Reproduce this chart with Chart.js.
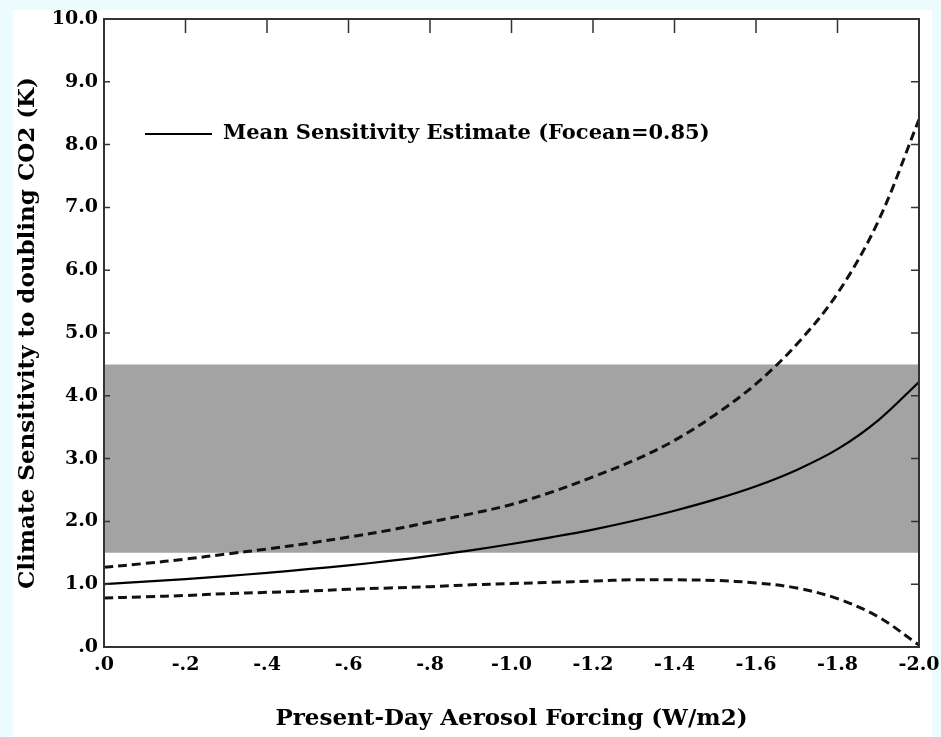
<!DOCTYPE html>
<html>
<head>
<meta charset="utf-8">
<script src="https://cdn.jsdelivr.net/npm/chart.js@4.4.0/dist/chart.umd.min.js"></script>
<style>
  html, body { margin: 0; padding: 0; background: #ecfcfd; }
  canvas { display: block; }
</style>
</head>
<body>
<canvas id="c" width="941" height="737"></canvas>
<script>
// ---- data ----
const forcing = [0, -0.1, -0.2, -0.3, -0.4, -0.5, -0.6, -0.7, -0.8, -0.9, -1.0,
                 -1.1, -1.2, -1.3, -1.4, -1.5, -1.6, -1.7, -1.8, -1.9, -2.0];
const meanSensitivity = [1.00, 1.04, 1.08, 1.13, 1.18, 1.24, 1.30, 1.37, 1.45, 1.54, 1.64,
                         1.75, 1.87, 2.01, 2.17, 2.35, 2.56, 2.82, 3.15, 3.61, 4.22];
const upperSensitivity = [1.27, 1.33, 1.40, 1.48, 1.56, 1.65, 1.75, 1.86, 1.99, 2.12, 2.27,
                          2.47, 2.71, 2.97, 3.29, 3.70, 4.19, 4.82, 5.63, 6.78, 8.40];
const lowerSensitivity = [0.78, 0.80, 0.82, 0.85, 0.87, 0.89, 0.92, 0.94, 0.96, 0.99, 1.01,
                          1.03, 1.05, 1.07, 1.07, 1.06, 1.02, 0.94, 0.77, 0.48, 0.03];
const ipccRange = [1.5, 4.5];
const xRange = [0, -2.0];
const xTickValues = [0, -0.2, -0.4, -0.6, -0.8, -1.0, -1.2, -1.4, -1.6, -1.8, -2.0];
const xTickLabels = ['.0', '-.2', '-.4', '-.6', '-.8', '-1.0', '-1.2', '-1.4', '-1.6', '-1.8', '-2.0'];
const yTickValues = [0, 1, 2, 3, 4, 5, 6, 7, 8, 9, 10];
const yTickLabels = ['.0', '1.0', '2.0', '3.0', '4.0', '5.0', '6.0', '7.0', '8.0', '9.0', '10.0'];
const legendLabel = 'Mean Sensitivity Estimate (Focean=0.85)';
const xTitle = 'Present-Day Aerosol Forcing (W/m2)';
const yTitle = 'Climate Sensitivity to doubling CO2 (K)';

// ---- build ----
const FONT = "'DejaVu Serif', 'Liberation Serif', serif";
const pts = (ys) => forcing.map((x, i) => ({ x: x, y: ys[i] }));
const labelFor = (vals, labs, v) => {
  const i = vals.findIndex(t => Math.abs(t - v) < 1e-6);
  return i >= 0 ? labs[i] : '';
};

const backgroundPlugin = {
  id: 'bg',
  beforeDraw(chart) {
    const ctx = chart.ctx;
    ctx.save();
    ctx.fillStyle = '#ecfcfd';
    ctx.fillRect(0, 0, chart.width, chart.height);
    ctx.fillStyle = '#ffffff';
    ctx.fillRect(13, 10, 919, chart.height - 10);
    ctx.restore();
  }
};

const framePlugin = {
  id: 'frame',
  afterDatasetsDraw(chart) {
    const { ctx, chartArea: a, scales } = chart;
    ctx.save();
    ctx.strokeStyle = '#333';
    ctx.lineWidth = 2;
    ctx.strokeRect(a.left, a.top, a.right - a.left, a.bottom - a.top);
    ctx.lineWidth = 1.5;
    ctx.beginPath();
    xTickValues.forEach(v => {
      const px = scales.x.getPixelForValue(v);
      if (Math.abs(px - a.left) < 2 || Math.abs(px - a.right) < 2) return;
      ctx.moveTo(px, a.top);
      ctx.lineTo(px, a.top + 14);
    });
    yTickValues.forEach(v => {
      const py = scales.y.getPixelForValue(v);
      if (Math.abs(py - a.top) < 2 || Math.abs(py - a.bottom) < 2) return;
      ctx.moveTo(a.left, py);
      ctx.lineTo(a.left + 6, py);
      ctx.moveTo(a.right, py);
      ctx.lineTo(a.right - 8, py);
    });
    ctx.stroke();
    ctx.restore();
  }
};

const legendPlugin = {
  id: 'insideLegend',
  afterDraw(chart) {
    const ctx = chart.ctx;
    const ds = chart.data.datasets[0];
    const x0 = 145, y0 = 134;
    ctx.save();
    ctx.strokeStyle = ds.borderColor;
    ctx.lineWidth = 2;
    ctx.beginPath();
    ctx.moveTo(x0, y0);
    ctx.lineTo(x0 + 67, y0);
    ctx.stroke();
    ctx.fillStyle = '#000';
    ctx.font = "bold 21px " + FONT;
    ctx.textBaseline = 'middle';
    ctx.textAlign = 'left';
    ctx.fillText(ds.label, x0 + 78, y0);
    ctx.restore();
  }
};

new Chart(document.getElementById('c'), {
  type: 'line',
  data: {
    datasets: [
      {
        label: legendLabel,
        data: pts(meanSensitivity),
        borderColor: '#000',
        borderWidth: 2.2,
        pointRadius: 0,
        tension: 0.35,
        fill: false
      },
      {
        label: 'Upper bound',
        data: pts(upperSensitivity),
        borderColor: '#111',
        borderWidth: 3,
        borderDash: [9, 5],
        pointRadius: 0,
        tension: 0.35,
        fill: false
      },
      {
        label: 'Lower bound',
        data: pts(lowerSensitivity),
        borderColor: '#111',
        borderWidth: 3,
        borderDash: [9, 5],
        pointRadius: 0,
        tension: 0.35,
        fill: false
      },
      {
        label: 'IPCC range',
        data: xRange.map(x => ({ x: x, y: ipccRange[1] })),
        borderWidth: 0,
        borderColor: 'rgba(0,0,0,0)',
        backgroundColor: '#a3a3a3',
        pointRadius: 0,
        fill: { value: ipccRange[0] }
      }
    ]
  },
  options: {
    responsive: false,
    animation: false,
    devicePixelRatio: 1,
    layout: { autoPadding: false, padding: { top: 19, right: 22, left: 0, bottom: 0 } },
    plugins: { legend: { display: false }, tooltip: { enabled: false } },
    scales: {
      x: {
        type: 'linear',
        min: xRange[1],
        max: xRange[0],
        reverse: true,
        afterBuildTicks: (s) => { s.ticks = xTickValues.map(v => ({ value: v })); },
        afterFit: (s) => { s.height = 90; s.paddingLeft = 0; s.paddingRight = 0; },
        grid: { display: false, drawTicks: false },
        border: { display: false },
        ticks: {
          autoSkip: false,
          maxRotation: 0,
          padding: 7,
          color: '#000',
          font: { family: FONT, size: 19, weight: 'bold' },
          callback: (v) => labelFor(xTickValues, xTickLabels, v)
        },
        title: {
          display: true,
          text: xTitle,
          color: '#000',
          font: { family: FONT, size: 23, weight: 'bold' },
          padding: { top: 0, bottom: 4 }
        }
      },
      y: {
        type: 'linear',
        min: 0,
        max: 10,
        afterBuildTicks: (s) => { s.ticks = yTickValues.map(v => ({ value: v })); },
        afterFit: (s) => { s.width = 104; s.paddingTop = 0; s.paddingBottom = 0; },
        grid: { display: false, drawTicks: false },
        border: { display: false },
        ticks: {
          autoSkip: false,
          padding: 6,
          color: '#000',
          font: { family: FONT, size: 19, weight: 'bold' },
          callback: (v) => labelFor(yTickValues, yTickLabels, v)
        },
        title: {
          display: true,
          text: yTitle,
          color: '#000',
          font: { family: FONT, size: 23, weight: 'bold' },
          padding: { top: 14, bottom: 0 }
        }
      }
    }
  },
  plugins: [backgroundPlugin, framePlugin, legendPlugin]
});
</script>
</body>
</html>
